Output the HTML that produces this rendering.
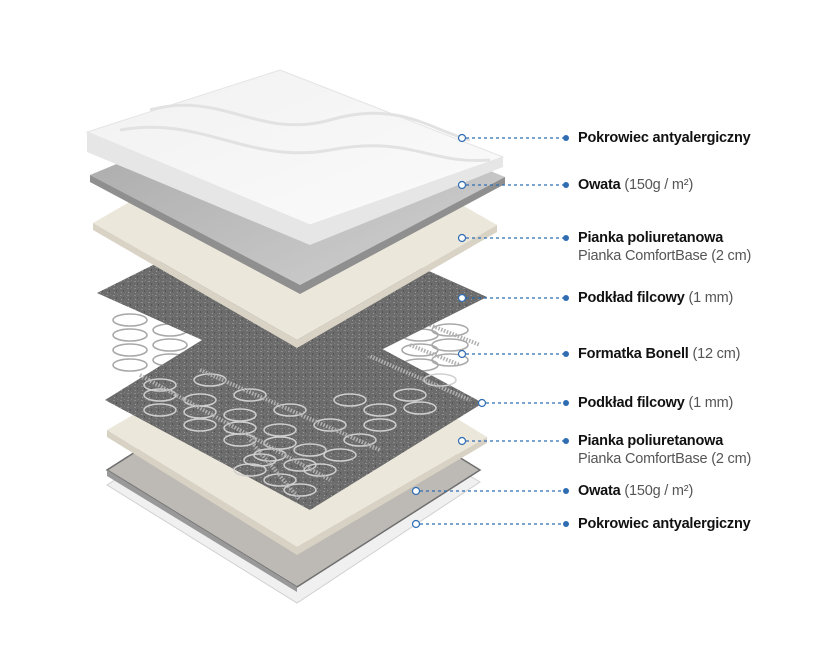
<!DOCTYPE html>
<html><head><meta charset="utf-8"><style>
html,body{margin:0;padding:0;background:#fff}
body{width:832px;height:651px;position:relative;overflow:hidden;font-family:"Liberation Sans",sans-serif}
.l{position:absolute;left:578px;font-size:14.5px;color:#111;white-space:nowrap;line-height:18px;letter-spacing:-0.2px}
.l b{font-weight:bold}
.l span{color:#555}
</style></head><body>
<svg width="832" height="651" style="position:absolute;left:0;top:0">
<defs>
<pattern id="felt" width="7" height="7" patternUnits="userSpaceOnUse">
<rect width="7" height="7" fill="#6c6c6c"/><rect x="1" y="1" width="2" height="1" fill="#8a8a8a"/><rect x="4" y="3" width="1" height="2" fill="#555"/><rect x="2" y="5" width="1" height="1" fill="#999"/><rect x="5" y="0" width="1" height="1" fill="#808080"/>
</pattern>
<linearGradient id="wh" x1="0" y1="0" x2="1" y2="1"><stop offset="0" stop-color="#f1f1f1"/><stop offset="1" stop-color="#fbfbfb"/></linearGradient>
<linearGradient id="gr" x1="0" y1="0" x2="1" y2="1"><stop offset="0" stop-color="#a6a6a6"/><stop offset="1" stop-color="#d2d2d2"/></linearGradient>
</defs>
<polygon points="290,368 480,482 297,603 107,485" fill="#f0f0f0" stroke="#d0d0d0"/>
<polygon points="290,353 480,470 297,587 107,470" fill="#bdb9b4" stroke="#6f6f6f" stroke-width="1.5"/>
<polygon points="107,470 297,587 297,592 107,476" fill="#999"/>
<polygon points="297,320 487,437 297,547 107,430" fill="#ece7db"/>
<polygon points="107,430 297,547 487,437 487,443 297,555 107,437" fill="#d8d2c4"/>
<g fill="none" stroke="#a8a8a8" stroke-width="1.6">
<ellipse cx="130" cy="320" rx="17" ry="6"/><ellipse cx="130" cy="335" rx="17" ry="6"/><ellipse cx="130" cy="350" rx="17" ry="6"/><ellipse cx="130" cy="365" rx="17" ry="6"/>
<ellipse cx="170" cy="330" rx="17" ry="6"/><ellipse cx="170" cy="345" rx="17" ry="6"/><ellipse cx="170" cy="360" rx="17" ry="6"/>
<ellipse cx="450" cy="330" rx="18" ry="6"/><ellipse cx="450" cy="345" rx="18" ry="6"/><ellipse cx="450" cy="360" rx="18" ry="6"/><ellipse cx="420" cy="335" rx="18" ry="6"/><ellipse cx="420" cy="350" rx="18" ry="6"/><ellipse cx="420" cy="365" rx="18" ry="6"/>
</g>
<polygon points="278,293 483,403 310,510 105,400" fill="url(#felt)"/>
<g fill="none" stroke="#cfcfcf" stroke-width="1.5">
<ellipse cx="160" cy="385" rx="16" ry="6"/><ellipse cx="200" cy="400" rx="16" ry="6"/><ellipse cx="240" cy="415" rx="16" ry="6"/><ellipse cx="280" cy="430" rx="16" ry="6"/><ellipse cx="310" cy="450" rx="16" ry="6"/><ellipse cx="320" cy="470" rx="16" ry="6"/><ellipse cx="300" cy="490" rx="16" ry="6"/>
<ellipse cx="210" cy="380" rx="16" ry="6"/><ellipse cx="250" cy="395" rx="16" ry="6"/><ellipse cx="290" cy="410" rx="16" ry="6"/><ellipse cx="330" cy="425" rx="16" ry="6"/><ellipse cx="360" cy="440" rx="16" ry="6"/>
<ellipse cx="380" cy="410" rx="16" ry="6"/><ellipse cx="410" cy="395" rx="16" ry="6"/><ellipse cx="440" cy="380" rx="16" ry="6"/><ellipse cx="350" cy="400" rx="16" ry="6"/>
<ellipse cx="240" cy="440" rx="16" ry="6"/><ellipse cx="270" cy="455" rx="16" ry="6"/><ellipse cx="200" cy="425" rx="16" ry="6"/><ellipse cx="160" cy="410" rx="16" ry="6"/>
<ellipse cx="250" cy="470" rx="16" ry="6"/><ellipse cx="280" cy="480" rx="16" ry="6"/>
<ellipse cx="160" cy="395" rx="16" ry="6"/><ellipse cx="200" cy="412" rx="16" ry="6"/><ellipse cx="240" cy="428" rx="16" ry="6"/><ellipse cx="280" cy="443" rx="16" ry="6"/><ellipse cx="340" cy="455" rx="16" ry="6"/><ellipse cx="380" cy="425" rx="16" ry="6"/><ellipse cx="420" cy="408" rx="16" ry="6"/><ellipse cx="300" cy="465" rx="16" ry="6"/><ellipse cx="260" cy="460" rx="16" ry="6"/>
</g>
<g stroke="#b0b0b0" stroke-width="4" stroke-dasharray="1.5 1.5">
<line x1="140" y1="375" x2="330" y2="480"/><line x1="200" y1="370" x2="380" y2="450"/><line x1="310" y1="330" x2="470" y2="400"/><line x1="430" y1="325" x2="480" y2="345"/><line x1="410" y1="345" x2="460" y2="365"/><line x1="250" y1="440" x2="300" y2="500"/>
</g>
<polygon points="277,203 487,297 307,387 97,293" fill="url(#felt)"/>
<polygon points="293,108 497,225 297,340 93,223" fill="#ece7db"/>
<polygon points="93,223 297,340 497,225 497,232 297,348 93,230" fill="#d9d3c5"/>
<polygon points="295,90 505,177 300,285 90,175" fill="url(#gr)"/>
<polygon points="90,175 300,285 505,177 505,184 300,294 90,182" fill="#8f8f8f"/>
<polygon points="280,70 503,157 310,225 87,132" fill="url(#wh)" stroke="#e4e4e4"/>
<polygon points="87,132 310,225 503,157 503,167 310,245 87,152" fill="#e6e6e6"/>
<g fill="none" stroke="#e2e2e2" stroke-width="3">
<path d="M150,110 C220,90 260,140 330,120 S430,130 470,140"/>
<path d="M120,130 C200,115 250,165 330,150 S430,165 490,160"/>
</g>
<g stroke="#2f6db3" stroke-width="1.2" stroke-dasharray="3 3" fill="none">
<line x1="466" y1="138" x2="565" y2="138"/><line x1="466" y1="185" x2="565" y2="185"/><line x1="466" y1="238" x2="565" y2="238"/><line x1="466" y1="298" x2="565" y2="298"/><line x1="466" y1="354" x2="565" y2="354"/><line x1="486" y1="403" x2="565" y2="403"/><line x1="466" y1="441" x2="565" y2="441"/><line x1="420" y1="491" x2="565" y2="491"/><line x1="420" y1="524" x2="565" y2="524"/>
</g>
<g fill="#fff" stroke="#2f6db3" stroke-width="1.2">
<circle cx="462" cy="138" r="3.5"/><circle cx="462" cy="185" r="3.5"/><circle cx="462" cy="238" r="3.5"/><circle cx="462" cy="298" r="3.5"/><circle cx="462" cy="354" r="3.5"/><circle cx="482" cy="403" r="3.5"/><circle cx="462" cy="441" r="3.5"/><circle cx="416" cy="491" r="3.5"/><circle cx="416" cy="524" r="3.5"/>
</g>
<g fill="#2f6db3">
<circle cx="566" cy="138" r="3"/><circle cx="566" cy="185" r="3"/><circle cx="566" cy="238" r="3"/><circle cx="566" cy="298" r="3"/><circle cx="566" cy="354" r="3"/><circle cx="566" cy="403" r="3"/><circle cx="566" cy="441" r="3"/><circle cx="566" cy="491" r="3"/><circle cx="566" cy="524" r="3"/>
</g>
</svg>
<div class="l" style="top:129px"><b>Pokrowiec antyalergiczny</b></div>
<div class="l" style="top:176px"><b>Owata</b> <span>(150g / m²)</span></div>
<div class="l" style="top:229px"><b>Pianka poliuretanowa</b><br><span>Pianka ComfortBase (2 cm)</span></div>
<div class="l" style="top:289px"><b>Podkład filcowy</b> <span>(1 mm)</span></div>
<div class="l" style="top:345px"><b>Formatka Bonell</b> <span>(12 cm)</span></div>
<div class="l" style="top:394px"><b>Podkład filcowy</b> <span>(1 mm)</span></div>
<div class="l" style="top:432px"><b>Pianka poliuretanowa</b><br><span>Pianka ComfortBase (2 cm)</span></div>
<div class="l" style="top:482px"><b>Owata</b> <span>(150g / m²)</span></div>
<div class="l" style="top:515px"><b>Pokrowiec antyalergiczny</b></div>
</body></html>
